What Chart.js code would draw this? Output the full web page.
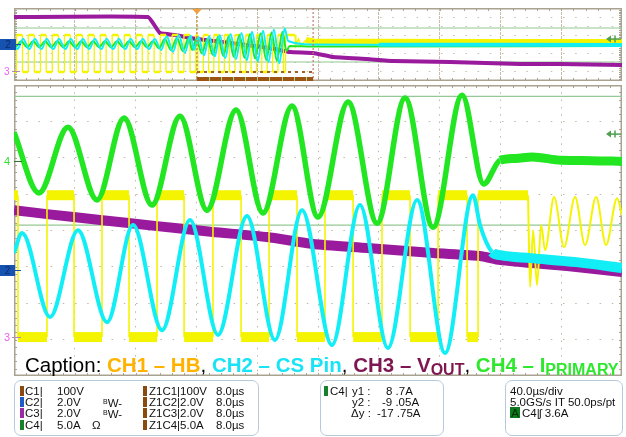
<!DOCTYPE html>
<html>
<head>
<meta charset="utf-8">
<script src="https://cdn.jsdelivr.net/npm/chart.js@4.4.1/dist/chart.umd.min.js"></script>
<style>
  html, body { margin: 0; padding: 0; background: #fff; }
  body { width: 626px; height: 437px; position: relative; overflow: hidden;
         font-family: "Liberation Sans", Arial, Helvetica, sans-serif; }
  .plot { position: absolute; left: 14px; width: 608px; }
  #ovBox { top: 8px; height: 73px; }
  #mainBox { top: 85px; height: 291px; }
  .abs { position: absolute; white-space: nowrap; }
  .caption { left: 25px; top: 355px; font-size: 20.5px; line-height: 20px; color: #000; }
  .caption sub { font-size: 16px; vertical-align: -3px; line-height: 0; }
  .info { position: absolute; top: 380px; height: 54px; border: 1.5px solid #b7cadc;
          border-radius: 7px; background: #fff; }
  .t { position: absolute; white-space: nowrap; font-size: 11.5px; line-height: 12px; color: #111; }
  .sw { position: absolute; width: 4px; height: 10px; }
  .chbox { position: absolute; width: 15px; height: 11px; background: #1652b0; color: #0b2c6c;
           font-size: 10px; line-height: 11px; text-align: center; }
  .arrow { position: absolute; height: 1px; }
</style>
</head>
<body>
<div class="plot" id="ovBox"><canvas id="ov" width="608" height="73"></canvas></div>
<div class="plot" id="mainBox"><canvas id="main" width="608" height="291"></canvas></div>

<!-- channel ground markers, overview -->
<div class="chbox" style="left:0;top:39px;width:16px;">2</div>
<div class="arrow" style="left:16px;top:44px;width:5px;background:#1652b0;"></div>
<div class="t" style="left:4px;top:66px;font-size:10px;color:#f060f0;">3</div>
<div class="arrow" style="left:12px;top:71px;width:8px;background:#b888a8;"></div>

<!-- channel ground markers, main -->
<div class="t" style="left:4px;top:155px;font-size:11px;color:#33dd33;">4</div>
<div class="arrow" style="left:14px;top:161px;width:8px;background:#2a7a2a;"></div>
<div class="chbox" style="left:0;top:265px;">2</div>
<div class="arrow" style="left:15px;top:270px;width:6px;background:#1652b0;"></div>
<div class="t" style="left:4px;top:331px;font-size:11px;color:#f060f0;">3</div>
<div class="arrow" style="left:12px;top:337px;width:9px;background:#b888a8;"></div>

<div class="abs caption">Caption: <b style="color:#ffb300">CH1 – HB</b>, <b style="color:#18e4f6">CH2 – CS Pin</b>, <b style="color:#7d1651">CH3 – V<sub>OUT</sub></b>, <b style="color:#2ee82e">CH4 – I<sub>PRIMARY</sub></b></div>

<div class="info" style="left:14px;width:243px;"></div>
<div class="info" style="left:320px;width:122px;"></div>
<div class="info" style="left:505px;width:116px;"></div>

<!-- box 1 -->
<div class="sw" style="left:20px;top:386px;background:#8a4a10;"></div>
<div class="t" style="left:25px;top:385px;">C1|</div><div class="t" style="left:57px;top:385px;">100V</div>
<div class="sw" style="left:20px;top:397px;background:#1f5bc4;"></div>
<div class="t" style="left:25px;top:396px;">C2|</div><div class="t" style="left:57px;top:396px;">2.0V</div>
<div class="t" style="left:103px;top:396px;"><span style="font-size:7px;vertical-align:3px;">B</span>W-</div>
<div class="sw" style="left:20px;top:408px;background:#9b2aa5;"></div>
<div class="t" style="left:25px;top:407px;">C3|</div><div class="t" style="left:57px;top:407px;">2.0V</div>
<div class="t" style="left:103px;top:407px;"><span style="font-size:7px;vertical-align:3px;">B</span>W-</div>
<div class="sw" style="left:20px;top:420px;background:#17802a;"></div>
<div class="t" style="left:25px;top:419px;">C4|</div><div class="t" style="left:57px;top:419px;">5.0A</div>
<div class="t" style="left:92px;top:419px;">Ω</div>

<div class="sw" style="left:143px;top:386px;background:#8a4a10;"></div>
<div class="t" style="left:149px;top:385px;">Z1C1|100V</div><div class="t" style="left:216px;top:385px;">8.0µs</div>
<div class="sw" style="left:143px;top:397px;background:#8a4a10;"></div>
<div class="t" style="left:149px;top:396px;">Z1C2|2.0V</div><div class="t" style="left:216px;top:396px;">8.0µs</div>
<div class="sw" style="left:143px;top:408px;background:#8a4a10;"></div>
<div class="t" style="left:149px;top:407px;">Z1C3|2.0V</div><div class="t" style="left:216px;top:407px;">8.0µs</div>
<div class="sw" style="left:143px;top:420px;background:#8a4a10;"></div>
<div class="t" style="left:149px;top:419px;">Z1C4|5.0A</div><div class="t" style="left:216px;top:419px;">8.0µs</div>

<!-- box 2 -->
<div class="sw" style="left:324px;top:386px;background:#17802a;"></div>
<div class="t" style="left:330px;top:385px;">C4|</div>
<div class="t" style="left:352px;top:385px;">y1 :</div><div class="t" style="left:386px;top:385px;">8 .7A</div>
<div class="t" style="left:352px;top:396px;">y2 :</div><div class="t" style="left:382px;top:396px;">-9 .05A</div>
<div class="t" style="left:351px;top:407px;">Δy :</div><div class="t" style="left:377px;top:407px;">-17 .75A</div>

<!-- box 3 -->
<div class="t" style="left:510px;top:385px;">40.0µs/div</div>
<div class="t" style="left:510px;top:396px;">5.0GS/s IT 50.0ps/pt</div>
<div class="t" style="left:510px;top:407px;width:10px;height:11px;background:#0d7a1e;color:#002a00;text-align:center;">A</div>
<div class="t" style="left:522px;top:407px;">C4|</div><div class="t" style="left:539px;top:407px;">ʃ 3.6A</div>

<script>
// ---------- main (zoomed) view: time in µs (40 µs/div), level in divisions ----------
const mainHbLevels = [4.97, 1.07];            // CH1 high / low plateau
const mainHbEdges = [2.6, 21.7, 39.5, 57.9, 75.7, 94.1, 111.9, 130.9, 149.4, 167.8,
                     186.2, 204.6, 223.1, 242.1, 260.6, 279, 298.1, 305.3];
const mainHbRingT = [338.2, 339.5, 341.5, 344.1, 346.8, 349.4, 355.3, 361.9, 369.1, 375.7, 383, 389.5, 396.8, 400];
const mainHbRingV = [4.97, 2.45, 4.01, 2.5, 4.15, 3.46, 4.92, 3.54, 4.92, 3.60, 4.92, 3.60, 4.89, 4.42];

const mainCsT = [0, 5.3, 23.7, 42.1, 61.2, 78.3, 97.4, 115.8, 134.2, 153.3, 171.7, 189.5, 209.2,
                 227.6, 246, 265.2, 283.6, 302, 306.6, 314.5, 320, 340, 370, 400];
const mainCsV = [3.38, 3.93, 1.62, 4.01, 1.48, 4.15, 1.26, 4.29, 1.13, 4.40, 0.99, 4.56, 0.85,
                 4.70, 0.77, 4.84, 0.63, 4.97, 4.15, 3.41, 3.32, 3.24, 3.13, 2.97];

const mainIpT = [0, 16.4, 35.5, 54.6, 72.4, 90.8, 109.2, 127, 146.1, 163.8, 182.9, 200, 219.8,
                 238.9, 257.3, 275.7, 294.8, 309, 319.8, 330, 341, 360, 380, 400];
const mainIpV = [6.70, 5.03, 6.84, 4.84, 7.09, 4.70, 7.14, 4.56, 7.31, 4.48, 7.42, 4.37, 7.53,
                 4.20, 7.64, 4.09, 7.72, 5.28, 5.93, 5.98, 6.02, 5.93, 5.92, 5.90];

const mainVoutT = [0, 21.7, 56.6, 94.1, 130.9, 166.5, 196.7, 232.3, 275.7, 306.6, 319.8, 363.9, 400];
const mainVoutV = [4.56, 4.45, 4.29, 4.12, 3.96, 3.82, 3.63, 3.52, 3.38, 3.30, 3.19, 3.02, 2.86];

const mainCursors = [7.69, 4.15];   // C4 y1 / y2
const mainTrigger = 6.65;           // C4 trigger level 3.6 A

// ---------- overview: time in µs (200 µs/div), level in divisions ----------
const ovHbLevels = [5.04, 0.99];
const ovHbEdges = [8, 28, 47, 67, 87, 106, 126, 146, 166, 185, 205, 225, 244, 264, 284, 303, 323,
                   343, 363, 382, 402, 422, 441, 461, 481, 500, 520, 540, 559, 579, 598,
                   604.7, 622.8, 640, 657.3, 674, 692, 708.7, 727, 744.5, 762.3, 779.7, 797.5,
                   815, 833, 850.8, 868.3, 886.6, 893.2];
const ovHbTailT = [924.8, 927, 935, 945, 960, 990, 1200, 1500, 2000];
const ovHbTailV = [5.04, 3.9, 4.6, 3.9, 4.5, 4.3, 4.3, 4.28, 4.27];

const ovCsT = [0, 11, 30, 50, 69, 90, 108, 129, 148, 169, 187, 208, 227, 247, 266, 287, 305, 326,
               345, 366, 384, 405, 424, 444, 463, 484, 502, 523, 542, 562, 581, 592,
               602, 607, 624.8, 642.2, 660.3, 676.8, 694.8, 712.6, 730, 748.5, 765.9, 783, 801.8,
               819.2, 837, 855, 872.8, 890.3, 902, 983.7, 1200, 1600, 2000];
const ovCsV = [4.1, 3.5, 4.6, 3.5, 4.6, 3.5, 4.6, 3.5, 4.6, 3.5, 4.6, 3.5, 4.6, 3.5, 4.6, 3.5, 4.6, 3.5,
               4.6, 3.5, 4.6, 3.5, 4.6, 3.5, 4.6, 3.4, 4.9, 3.2, 5.0, 3.1, 5.0, 3.4,
               4.35, 4.83, 2.82, 4.91, 2.70, 5.03, 2.50, 5.15, 2.38, 5.25, 2.26, 5.39, 2.14,
               5.51, 2.06, 5.63, 1.94, 5.75, 4.38, 3.99, 3.97, 3.96, 3.95];

const ovIpT = [0, 4, 24, 43, 63, 83, 102, 122, 142, 162, 181, 201, 221, 240, 260, 280, 299, 319,
               339, 359, 378, 398, 418, 437, 457, 477, 496, 516, 536, 555, 575, 586, 600,
               617.9, 636, 654, 671.2, 688.6, 706.4, 723.1, 741.6, 758.3, 776.8, 792.9, 811.6,
               830, 847.4, 864.8, 883.4, 895.9, 907, 983.7, 2000];
const ovIpV = [3.9, 3.7, 4.35, 3.7, 4.35, 3.7, 4.35, 3.7, 4.35, 3.7, 4.35, 3.7, 4.35, 3.7, 4.35, 3.7, 4.35, 3.7,
               4.35, 3.7, 4.35, 3.7, 4.35, 3.7, 4.35, 3.6, 4.6, 3.4, 4.7, 3.3, 4.7, 3.4, 4.6,
               3.04, 4.64, 2.87, 4.84, 2.75, 4.90, 2.63, 5.04, 2.55, 5.14, 2.47, 5.24,
               2.31, 5.34, 2.22, 5.40, 3.29, 3.84, 3.79, 3.84];

const ovVoutT = [0, 441, 480, 530, 602, 711, 842, 908, 984, 1050, 1161, 1247, 1434, 1665, 1796, 2000];
const ovVoutV = [7.01, 7.01, 5.26, 5.04, 4.60, 4.16, 3.62, 3.18, 3.07, 2.63, 2.41, 2.19, 2.08, 1.86, 1.86, 1.75];

const ovCursors = [5.81, 2.08];
const ovTrigger = 4.6;
const ovZoomWindow = [602, 984];    // part of the overview shown in the main view

// ---------- colours ----------
const C_HB = '#f4f400', C_CS = '#12eef5', C_IP = '#22e622', C_VOUT = '#9a1a9e';

function pts(ts, vs) { return ts.map((t, i) => ({ x: t, y: vs[i] })); }

function squareWave(edges, start, end, levels, first) {
  let lv = first;
  const out = [{ x: start, y: levels[lv] }];
  edges.forEach(e => {
    out.push({ x: e, y: levels[lv] });
    lv = 1 - lv;
    out.push({ x: e, y: levels[lv] });
  });
  out.push({ x: end, y: levels[lv] });
  return out;
}

const flatWide = (wide, thin) => ctx => ctx.p0.parsed.y === ctx.p1.parsed.y ? wide : thin;

const scopeDecor = {
  id: 'scopeDecor',
  beforeDatasetsDraw(chart, args, o) {
    const { ctx, chartArea: a, scales: { x, y } } = chart;
    ctx.save();
    ctx.strokeStyle = o.frame;
    ctx.lineWidth = 1;
    const xs = (x.max - x.min) / 50, ys = (y.max - y.min) / 40;
    ctx.beginPath();
    for (let v = x.min; v <= x.max + 1e-6; v += xs) {
      const px = Math.round(x.getPixelForValue(v)) + 0.5;
      ctx.moveTo(px, a.top); ctx.lineTo(px, a.top + 3);
      ctx.moveTo(px, a.bottom); ctx.lineTo(px, a.bottom - 3);
    }
    for (let v = y.min; v <= y.max + 1e-6; v += ys) {
      const py = Math.round(y.getPixelForValue(v)) + 0.5;
      ctx.moveTo(a.left, py); ctx.lineTo(a.left + 3, py);
      ctx.moveTo(a.right, py); ctx.lineTo(a.right - 3, py);
    }
    ctx.stroke();
    ctx.lineWidth = 1.5;
    ctx.strokeRect(a.left + 0.75, a.top + 0.75, a.width - 1.5, a.height - 1.5);
    // cursors
    ctx.strokeStyle = o.cursorColor;
    ctx.lineWidth = 1.2;
    o.cursors.forEach(c => {
      const py = y.getPixelForValue(c);
      ctx.beginPath(); ctx.moveTo(a.left, py); ctx.lineTo(a.right, py); ctx.stroke();
    });
    ctx.restore();
  },
  afterDatasetsDraw(chart, args, o) {
    const { ctx, chartArea: a, scales: { x, y } } = chart;
    ctx.save();
    // trigger level arrow on the right edge
    const ty = y.getPixelForValue(o.trigger);
    ctx.strokeStyle = ctx.fillStyle = '#4f9f4f';
    ctx.lineWidth = 1.5;
    ctx.beginPath(); ctx.moveTo(a.right - 1, ty); ctx.lineTo(a.right - 14, ty); ctx.stroke();
    ctx.beginPath(); ctx.moveTo(a.right - 16, ty); ctx.lineTo(a.right - 11, ty - 3.5); ctx.lineTo(a.right - 11, ty + 3.5); ctx.fill();
    ctx.beginPath(); ctx.moveTo(a.right - 7, ty - 3.5); ctx.lineTo(a.right - 7, ty + 3.5); ctx.stroke();
    if (o.window) {
      const x0 = x.getPixelForValue(o.window[0]), x1 = x.getPixelForValue(o.window[1]);
      ctx.lineWidth = 1.2;
      ctx.setLineDash([2, 2]);
      ctx.strokeStyle = '#d08a30';
      ctx.beginPath(); ctx.moveTo(x0, a.top); ctx.lineTo(x0, a.bottom); ctx.stroke();
      ctx.strokeStyle = '#c47a6a';
      ctx.beginPath(); ctx.moveTo(x1, a.top); ctx.lineTo(x1, a.bottom); ctx.stroke();
      ctx.setLineDash([3, 4]);
      ctx.lineWidth = 2;
      ctx.strokeStyle = '#a0602a';
      const ly = y.getPixelForValue(o.windowLevel);
      ctx.beginPath(); ctx.moveTo(x0, ly); ctx.lineTo(x1, ly); ctx.stroke();
      ctx.setLineDash([]);
      ctx.fillStyle = '#9c5412';
      ctx.fillRect(x0, a.bottom - 4, x1 - x0, 4);
      ctx.strokeStyle = '#a8d890';
      ctx.lineWidth = 1;
      ctx.beginPath();
      for (let v = x.min; v <= x.max + 1e-6; v += (x.max - x.min) / 50) {
        const px = Math.round(x.getPixelForValue(v)) + 0.5;
        if (px > x0 && px < x1) { ctx.moveTo(px, a.bottom - 4); ctx.lineTo(px, a.bottom); }
      }
      ctx.stroke();
      ctx.fillStyle = '#f0a040';
      ctx.beginPath(); ctx.moveTo(x0 - 5, a.top + 1); ctx.lineTo(x0 + 5, a.top + 1); ctx.lineTo(x0, a.top + 6); ctx.fill();
    }
    ctx.restore();
  }
};

function scopeScales(xMax, xStep, xDash, yDash, grid) {
  return {
    x: { type: 'linear', min: 0, max: xMax, afterFit: s => { s.height = 0; },
         ticks: { display: false, stepSize: xStep, autoSkip: false },
         grid: { color: grid, lineWidth: 1, drawTicks: false },
         border: { display: false, dash: xDash } },
    y: { type: 'linear', min: 0, max: 8, afterFit: s => { s.width = 0; },
         ticks: { display: false, stepSize: 1, autoSkip: false },
         grid: { color: grid, lineWidth: 1, drawTicks: false },
         border: { display: false, dash: yDash } }
  };
}

function baseOptions(scales, decor) {
  return {
    responsive: false, animation: false, events: [],
    layout: { padding: 0 },
    elements: { point: { radius: 0 } },
    plugins: { legend: { display: false }, tooltip: { enabled: false }, scopeDecor: decor },
    scales
  };
}

new Chart(document.getElementById('main'), {
  type: 'line',
  data: {
    datasets: [
      { data: pts(mainCsT, mainCsV), borderColor: C_CS, order: 1, cubicInterpolationMode: 'monotone',
        borderJoinStyle: 'round', segment: { borderWidth: c => c.p0.parsed.x >= 314 ? 10 : 4 } },
      { data: pts(mainIpT, mainIpV), borderColor: C_IP, order: 2, cubicInterpolationMode: 'monotone',
        borderJoinStyle: 'round', segment: { borderWidth: c => c.p0.parsed.x >= 319 ? 9 : 5.5 } },
      { data: squareWave(mainHbEdges, 0, mainHbRingT[0], mainHbLevels, 0), borderColor: C_HB, order: 3,
        tension: 0, segment: { borderWidth: flatWide(10, 1.6) } },
      { data: pts(mainHbRingT, mainHbRingV), borderColor: C_HB, order: 3, borderWidth: 2,
        cubicInterpolationMode: 'monotone' },
      { data: pts(mainVoutT, mainVoutV), borderColor: C_VOUT, order: 4, borderWidth: 10, tension: 0.2,
        borderJoinStyle: 'round' }
    ]
  },
  options: baseOptions(scopeScales(400, 40, [1.5, 5.8], [1.5, 10.7], '#c0b7a4'),
    { frame: '#a9a290', cursorColor: '#94c894', cursors: mainCursors, trigger: mainTrigger }),
  plugins: [scopeDecor]
});

new Chart(document.getElementById('ov'), {
  type: 'line',
  data: {
    datasets: [
      { data: pts(ovCsT, ovCsV), borderColor: C_CS, order: 1, cubicInterpolationMode: 'monotone',
        segment: { borderWidth: c => c.p0.parsed.x >= 984 ? 4 : 2 } },
      { data: pts(ovIpT, ovIpV), borderColor: C_IP, order: 2, borderWidth: 2, cubicInterpolationMode: 'monotone' },
      { data: squareWave(ovHbEdges, 0, ovHbTailT[0], ovHbLevels, 1), borderColor: C_HB, order: 3,
        tension: 0, segment: { borderWidth: flatWide(2.5, 1.3) } },
      { data: pts(ovHbTailT, ovHbTailV), borderColor: C_HB, order: 3,
        segment: { borderWidth: c => c.p0.parsed.x >= 960 ? 6 : 1.5 } },
      { data: pts(ovVoutT, ovVoutV), borderColor: C_VOUT, order: 4, borderWidth: 4, tension: 0.1 }
    ]
  },
  options: baseOptions(scopeScales(2000, 200, [3, 1], [1.5, 10.7], '#c6bdab'),
    { frame: '#a9a290', cursorColor: '#94c894', cursors: ovCursors, trigger: ovTrigger,
      window: ovZoomWindow, windowLevel: ovHbLevels[1] }),
  plugins: [scopeDecor]
});
</script>
</body>
</html>
